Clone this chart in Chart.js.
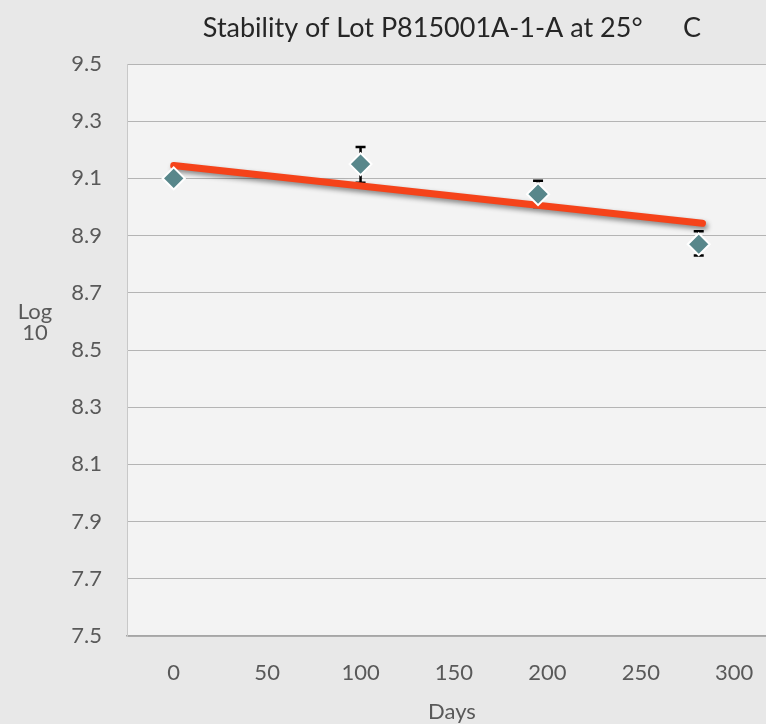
<!DOCTYPE html>
<html>
<head>
<meta charset="utf-8">
<script src="https://cdn.jsdelivr.net/npm/chart.js@4"></script>
<style>
  html, body { margin: 0; padding: 0; background: #e8e8e8; }
  #wrap { width: 766px; height: 724px; }
</style>
</head>
<body>
<div id="wrap"><canvas id="estabilidad" width="766" height="724"></canvas></div>
<script>
// Datos
const dias = [0, 100, 195, 281];
const log10Valores = [9.10, 9.15, 9.045, 8.87];
const errorBajo = [9.10, 9.085, 9.0, 8.83];
const errorAlto = [9.10, 9.21, 9.092, 8.915];
const tendenciaDias = [0, 283];
const tendenciaValores = [9.145, 8.943];
const ticksX = [0, 50, 100, 150, 200, 250, 300];

const fuente = 'Lato, "Open Sans", sans-serif';

// Fondo y textos extra (titulo, ejes)
const fondoPlugin = {
    id: 'fondo',
    beforeDraw(chart) {
        const ctx = chart.ctx, a = chart.chartArea;
        ctx.save();
        ctx.fillStyle = '#e8e8e8';
        ctx.fillRect(0, 0, chart.width, chart.height);
        ctx.fillStyle = '#f3f3f3';
        ctx.fillRect(a.left, a.top, a.right - a.left, a.bottom - a.top);
        ctx.restore();
    },
    afterDraw(chart) {
        const ctx = chart.ctx;
        ctx.save();
        ctx.fillStyle = '#262626';
        ctx.textAlign = 'center';
        ctx.textBaseline = 'middle';
        ctx.font = '27px ' + fuente;
        ctx.fillText('Stability of Lot P815001A-1-A at 25°\u2003\u2003C', 452, 28);
        ctx.fillStyle = '#595959';
        ctx.font = '22px ' + fuente;
        ctx.fillText('Days', 452, 712);
        ctx.fillText('Log', 35, 312);
        ctx.fillText('10', 35, 333);
        ctx.restore();
    }
};

// Barras de error (se dibujan debajo de los puntos)
const errorPlugin = {
    id: 'barrasError',
    beforeDatasetsDraw(chart) {
        const ctx = chart.ctx;
        const x = chart.scales.x, y = chart.scales.y;
        ctx.save();
        ctx.strokeStyle = '#000000';
        ctx.lineWidth = 2.5;
        dias.forEach((d, i) => {
            if (errorAlto[i] === errorBajo[i]) return;
            const px = x.getPixelForValue(d);
            const y1 = y.getPixelForValue(errorAlto[i]);
            const y2 = y.getPixelForValue(errorBajo[i]);
            ctx.beginPath();
            ctx.moveTo(px, y1); ctx.lineTo(px, y2);
            ctx.moveTo(px - 5, y1); ctx.lineTo(px + 5, y1);
            ctx.moveTo(px - 5, y2); ctx.lineTo(px + 5, y2);
            ctx.stroke();
        });
        ctx.restore();
    }
};

// Sombra para la linea de tendencia
const sombraPlugin = {
    id: 'sombra',
    beforeDatasetDraw(chart, args) {
        if (args.index !== 1) return;
        const ctx = chart.ctx;
        ctx.save();
        ctx.shadowColor = 'rgba(0,0,0,0.45)';
        ctx.shadowBlur = 5;
        ctx.shadowOffsetX = 2;
        ctx.shadowOffsetY = 3;
    },
    afterDatasetDraw(chart, args) {
        if (args.index !== 1) return;
        chart.ctx.restore();
    }
};

new Chart(document.getElementById('estabilidad').getContext('2d'), {
    type: 'scatter',
    data: {
        datasets: [{
            label: 'Log 10',
            data: dias.map((d, i) => ({ x: d, y: log10Valores[i] })),
            pointStyle: 'rectRot',
            pointRadius: 11,
            backgroundColor: '#58878b',
            borderColor: '#ffffff',
            borderWidth: 2,
            order: 0
        }, {
            type: 'line',
            label: 'Tendencia',
            data: tendenciaDias.map((d, i) => ({ x: d, y: tendenciaValores[i] })),
            borderColor: '#f5431a',
            borderWidth: 7,
            borderCapStyle: 'round',
            pointRadius: 0,
            fill: false,
            order: 1
        }]
    },
    options: {
        responsive: false,
        animation: false,
        layout: { autoPadding: false, padding: { top: 64, left: 0, right: 0, bottom: 0 } },
        plugins: {
            legend: { display: false },
            tooltip: { enabled: false },
            title: { display: false }
        },
        scales: {
            x: {
                type: 'linear',
                min: -25,
                max: 317,
                afterBuildTicks: axis => { axis.ticks = ticksX.map(v => ({ value: v })); },
                afterFit: s => { s.height = 88; s.paddingLeft = 0; s.paddingRight = 0; },
                grid: { display: false, drawTicks: false },
                border: { color: '#a6a6a6', width: 1.5 },
                ticks: {
                    padding: 24,
                    color: '#595959',
                    font: { family: fuente, size: 22 },
                    maxRotation: 0
                }
            },
            y: {
                min: 7.5,
                max: 9.5,
                afterFit: s => { s.width = 127; },
                grid: { color: '#b4b4b4', lineWidth: 1, drawTicks: false },
                border: { color: '#c8c8c8', width: 1 },
                ticks: {
                    stepSize: 0.2,
                    padding: 25,
                    color: '#595959',
                    font: { family: fuente, size: 22 },
                    callback: v => Number(v).toFixed(1)
                }
            }
        }
    },
    plugins: [fondoPlugin, errorPlugin, sombraPlugin]
});
</script>
</body>
</html>
